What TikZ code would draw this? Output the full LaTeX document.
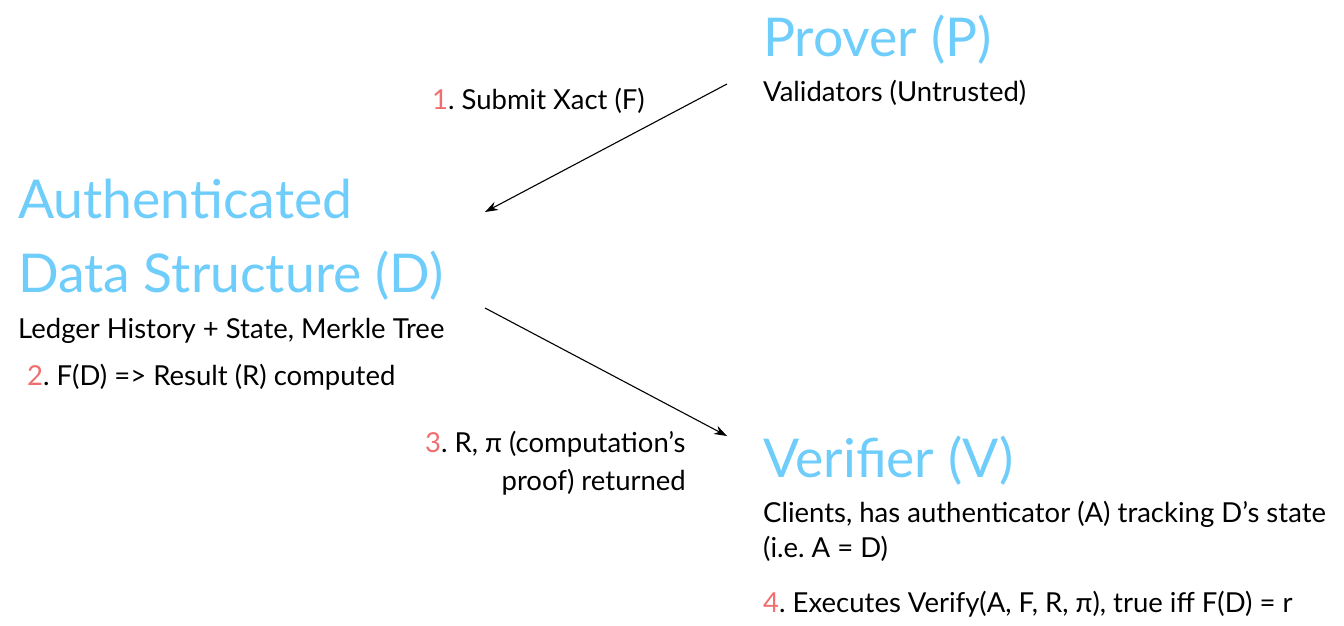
\documentclass[tikz,border=0pt]{standalone}
\usepackage{fontspec}
\setmainfont{Lato}
\usetikzlibrary{arrows.meta}
\definecolor{titleblue}{RGB}{110,205,250}
\definecolor{numred}{RGB}{240,110,110}
\tikzset{
  big/.style={anchor=base west, inner sep=0pt, text=titleblue, font=\fontsize{53.5}{60}\selectfont},
  small/.style={anchor=base west, inner sep=0pt, text=black, font=\fontsize{27.5}{30}\selectfont},
  conn/.style={-{Stealth[length=13pt,width=9pt]}, line width=1.1pt, black},
}
\newcommand{\num}[1]{\textcolor{numred}{#1}}
\frenchspacing
\begin{document}
\begin{tikzpicture}[x=1pt,y=-1pt]
\useasboundingbox (0,0) rectangle (1344,626);
\node[big] (prover) at (763,57) {Prover (P)};
\node[small] (provsub) at (763,102) {Validators (Untrusted)};
\node[big] (auth1) at (18,218) {Authenticated};
\node[big] (auth2) at (18,292) {Data Structure (D)};
\node[small] (authsub) at (18,338) {Ledger History + State, Merkle Tree};
\node[small] (step2) at (27,385) {\num{2}. F(D) => Result (R) computed};
\node[small] (step1) at (432,110) {\num{1}. Submit Xact (F)};
\node[small] (step3a) at (425,452) {\num{3}. R, π (computation’s};
\node[small, anchor=base east] (step3b) at (686,490) {proof) returned};
\node[big] (verif) at (763,477) {Verifier (V)};
\node[small] (versub1) at (763,522) {Clients, has authenticator (A) tracking D’s state};
\node[small] (versub2) at (763,557) {(i.e. A = D)};
\node[small] (step4) at (763,612) {\num{4}. Executes Verify(A, F, R, π), true iff F(D) = r};
\coordinate (a1s) at (727,84);
\coordinate (a1e) at (485,212);
\coordinate (a2s) at (485,308);
\coordinate (a2e) at (727,436);
\draw[conn] (a1s) -- (a1e);
\draw[conn] (a2s) -- (a2e);
\end{tikzpicture}
\end{document}
